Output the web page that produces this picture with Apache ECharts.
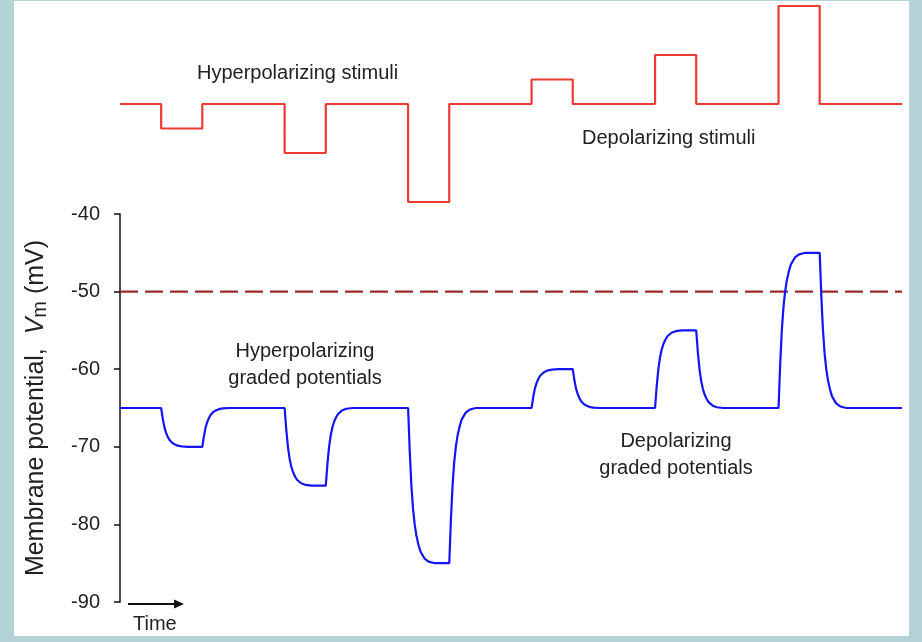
<!DOCTYPE html>
<html>
<head>
<meta charset="utf-8">
<script src="https://cdn.jsdelivr.net/npm/echarts@6/dist/echarts.min.js"></script>
<style>
  html, body { margin: 0; padding: 0; background: #b3d3d6; }
  #frame { position: absolute; left: 14px; top: 1px; width: 895px; height: 635px; background: #ffffff; }
  #chart { position: absolute; left: 0; top: 0; width: 922px; height: 642px; }
</style>
</head>
<body>
<div id="frame"></div>
<div id="chart"></div>
<script>
// ---- data ----
var timeStart = 0, timeEnd = 19;
var restingPotential = -65;
var thresholdPotential = -50;
var pulseStart = [1, 4, 7, 10, 13, 16];
var pulseEnd   = [2, 5, 8, 11, 14, 17];
var stimulusAmp = [-5, -10, -20, 5, 10, 20];
var yTicks = [-90, -80, -70, -60, -50, -40];
// time offsets within each transition (in time units)
var transOffsets = [0, 0.04, 0.08, 0.12, 0.16, 0.2, 0.25, 0.3, 0.4, 0.5, 0.65];
// membrane potential read along each onset (pulse start)
var onsetValues = [
  [-65, -66.4, -67.5, -68.2, -68.7, -69.1, -69.4, -69.6, -69.85, -69.95, -70],
  [-65, -67.8, -70, -71.5, -72.5, -73.2, -73.8, -74.25, -74.7, -74.9, -75],
  [-65, -70.6, -75, -78, -80, -81.4, -82.6, -83.5, -84.4, -84.8, -85],
  [-65, -63.6, -62.5, -61.8, -61.3, -60.9, -60.6, -60.4, -60.15, -60.05, -60],
  [-65, -62.2, -60, -58.5, -57.5, -56.8, -56.2, -55.75, -55.3, -55.1, -55],
  [-65, -59.4, -55, -52, -50, -48.6, -47.4, -46.5, -45.6, -45.2, -45]
];
// membrane potential read along each offset (pulse end)
var offsetValues = [
  [-70, -68.6, -67.5, -66.8, -66.3, -65.9, -65.6, -65.4, -65.15, -65.05, -65],
  [-75, -72.2, -70, -68.5, -67.5, -66.8, -66.2, -65.75, -65.3, -65.1, -65],
  [-85, -79.4, -75, -72, -70, -68.6, -67.4, -66.5, -65.6, -65.2, -65],
  [-60, -61.4, -62.5, -63.2, -63.7, -64.1, -64.4, -64.6, -64.85, -64.95, -65],
  [-55, -57.8, -60, -61.5, -62.5, -63.2, -63.8, -64.25, -64.7, -64.9, -65],
  [-45, -50.6, -55, -58, -60, -61.4, -62.6, -63.5, -64.4, -64.8, -65]
];

// ---- build series ----
var stimData = [[timeStart, 0]];
for (var i = 0; i < pulseStart.length; i++) {
  stimData.push([pulseStart[i], 0], [pulseStart[i], stimulusAmp[i]],
                [pulseEnd[i], stimulusAmp[i]], [pulseEnd[i], 0]);
}
stimData.push([timeEnd, 0]);

var vmData = [[timeStart, restingPotential]];
for (var i = 0; i < pulseStart.length; i++) {
  for (var k = 0; k < transOffsets.length; k++) vmData.push([pulseStart[i] + transOffsets[k], onsetValues[i][k]]);
  for (var k = 0; k < transOffsets.length; k++) vmData.push([pulseEnd[i] + transOffsets[k], offsetValues[i][k]]);
}
vmData.push([timeEnd, restingPotential]);

var FONT = 'Arial, "Liberation Sans", sans-serif';
var chart = echarts.init(document.getElementById('chart'));
chart.setOption({
  backgroundColor: 'transparent',
  animation: false,
  grid: [
    { left: 120, right: 20, top: 6, bottom: 440 },
    { left: 120, right: 20, top: 214, bottom: 40 }
  ],
  xAxis: [
    { type: 'value', gridIndex: 0, min: timeStart, max: timeEnd, show: false },
    { type: 'value', gridIndex: 1, min: timeStart, max: timeEnd, show: false }
  ],
  yAxis: [
    { type: 'value', gridIndex: 0, min: -20, max: 20, show: false },
    {
      type: 'value', gridIndex: 1, min: -90, max: -40, interval: 10,
      splitLine: { show: false },
      axisLine: { show: true, lineStyle: { color: '#111', width: 1.5 } },
      axisTick: { show: true, inside: false, length: 6, lineStyle: { color: '#111', width: 1.5 } },
      axisLabel: { show: true, margin: 20, fontSize: 20, color: '#222', fontFamily: FONT,
        customValues: yTicks },
      name: '{n|Membrane potential,  }{v|V}{s|m}{n| (mV)}',
      nameLocation: 'middle',
      nameRotate: 90,
      nameGap: 70,
      nameTextStyle: {
        fontFamily: FONT,
        rich: {
          n: { fontSize: 25, color: '#222', fontFamily: FONT },
          v: { fontSize: 25, color: '#222', fontStyle: 'italic', fontFamily: FONT },
          s: { fontSize: 20, color: '#222', fontFamily: FONT, padding: [7, 0, 0, 0] }
        }
      }
    }
  ],
  series: [
    {
      type: 'line', xAxisIndex: 0, yAxisIndex: 0, data: stimData,
      symbol: 'none', lineStyle: { color: '#ee3a33', width: 2.2 }, z: 3
    },
    {
      type: 'line', xAxisIndex: 1, yAxisIndex: 1,
      data: [[timeStart, thresholdPotential], [timeEnd, thresholdPotential]],
      symbol: 'none', lineStyle: { color: '#9a2c2c', width: 2.2, type: [18, 7] }, z: 2
    },
    {
      type: 'line', xAxisIndex: 1, yAxisIndex: 1, data: vmData,
      symbol: 'none', lineStyle: { color: '#1414f5', width: 2.2 }, z: 4
    }
  ],
  graphic: [
    { type: 'text', left: 197, top: 63, style: { text: 'Hyperpolarizing stimuli', fontSize: 20, fontFamily: FONT, fill: '#222' } },
    { type: 'text', left: 582, top: 128, style: { text: 'Depolarizing stimuli', fontSize: 20, fontFamily: FONT, fill: '#222' } },
    { type: 'text', x: 305, y: 365, style: { text: 'Hyperpolarizing\ngraded potentials', fontSize: 20, lineHeight: 27, fontFamily: FONT, fill: '#222', align: 'center', verticalAlign: 'middle' } },
    { type: 'text', x: 676, y: 455, style: { text: 'Depolarizing\ngraded potentials', fontSize: 20, lineHeight: 27, fontFamily: FONT, fill: '#222', align: 'center', verticalAlign: 'middle' } },
    { type: 'line', shape: { x1: 128, y1: 604, x2: 176, y2: 604 }, style: { stroke: '#111', lineWidth: 2 } },
    { type: 'polygon', shape: { points: [[174, 599.5], [184, 604], [174, 608.5]] }, style: { fill: '#111' } },
    { type: 'text', left: 133, top: 614, style: { text: 'Time', fontSize: 20, fontFamily: FONT, fill: '#222' } }
  ]
});
</script>
</body>
</html>
